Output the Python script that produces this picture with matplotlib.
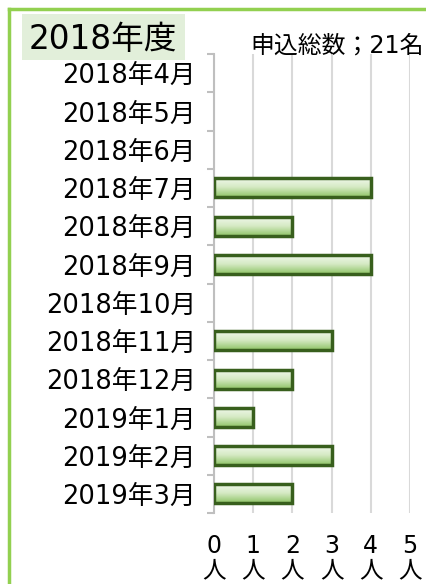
import numpy as np
import matplotlib.pyplot as plt
from matplotlib.lines import Line2D
from matplotlib.patches import Rectangle

# DejaVu for the (wide) digits, Noto CJK for the Japanese glyphs
plt.rcParams['font.family'] = ['DejaVu Sans', 'Noto Sans CJK JP']

# data
months = ['2018年4月', '2018年5月', '2018年6月', '2018年7月', '2018年8月', '2018年9月',
          '2018年10月', '2018年11月', '2018年12月', '2019年1月', '2019年2月', '2019年3月']
counts = [0, 0, 0, 4, 2, 4, 0, 3, 2, 1, 3, 2]
xticks = [0, 1, 2, 3, 4, 5]
xlabels = [f'{v}\n人' for v in xticks]
title = '2018年度'
total_label = '申込総数；21名'

W, H = 426, 584
fig = plt.figure(figsize=(W / 100, H / 100), dpi=100)
ax = fig.add_axes([214 / W, 1 - 513 / H, 196 / W, 459 / H])

y = np.arange(len(months))
bar_h = 0.5

# vertical gradient for bar faces (light top -> darker green bottom)
grad = np.linspace(0, 1, 64).reshape(-1, 1)
cmap = plt.matplotlib.colors.LinearSegmentedColormap.from_list(
    'g', ['#f3f9ee', '#d5eac4', '#8fc367'])
for yi, v in zip(y, counts):
    if v <= 0:
        continue
    ax.imshow(grad, cmap=cmap, aspect='auto', interpolation='bicubic',
              extent=(0, v, yi + bar_h / 2, yi - bar_h / 2), zorder=2)
edges = ['#385f1d' if v > 0 else 'none' for v in counts]
ax.barh(y, counts, height=bar_h, facecolor='none', edgecolor=edges,
        linewidth=2.5, zorder=3)

ax.set_xlim(0, 5)
ax.set_ylim(len(months) - 0.5, -0.5)
ax.set_xticks(xticks)
ax.set_xticklabels(xlabels, fontsize=17, linespacing=1.0)
ax.set_yticks(y)
ax.set_yticklabels(months, fontsize=18.5)
ax.set_yticks(np.arange(-0.5, len(months), 1), minor=True)
ax.tick_params(axis='y', which='major', length=0, pad=13)
ax.tick_params(axis='y', which='minor', length=5, color='#bfbfbf', width=1.5)
ax.tick_params(axis='x', length=0, pad=15)
ax.grid(axis='x', color='#d9d9d9', linewidth=1.5, zorder=0)
ax.set_axisbelow(True)
for s in ['top', 'right', 'bottom']:
    ax.spines[s].set_visible(False)
ax.spines['left'].set_color('#bfbfbf')
ax.spines['left'].set_linewidth(1.5)

# title box
fig.add_artist(Rectangle((22 / W, 1 - 60 / H), 163 / W, 46 / H,
                         transform=fig.transFigure, facecolor='#e2efda',
                         edgecolor='none', zorder=0))
fig.text(29 / W, 1 - 39 / H, title, fontsize=23.5, va='center', ha='left')
fig.text(424 / W, 1 - 46 / H, total_label, fontsize=17.2, va='center', ha='right')

# green frame
fig.add_artist(Line2D([9 / W, 9 / W], [0, 1 - 9 / H], transform=fig.transFigure,
                      color='#92d050', linewidth=2.5))
fig.add_artist(Line2D([9 / W, 1], [1 - 9 / H, 1 - 9 / H], transform=fig.transFigure,
                      color='#92d050', linewidth=2.5))

fig.savefig('out.png', dpi=100)
